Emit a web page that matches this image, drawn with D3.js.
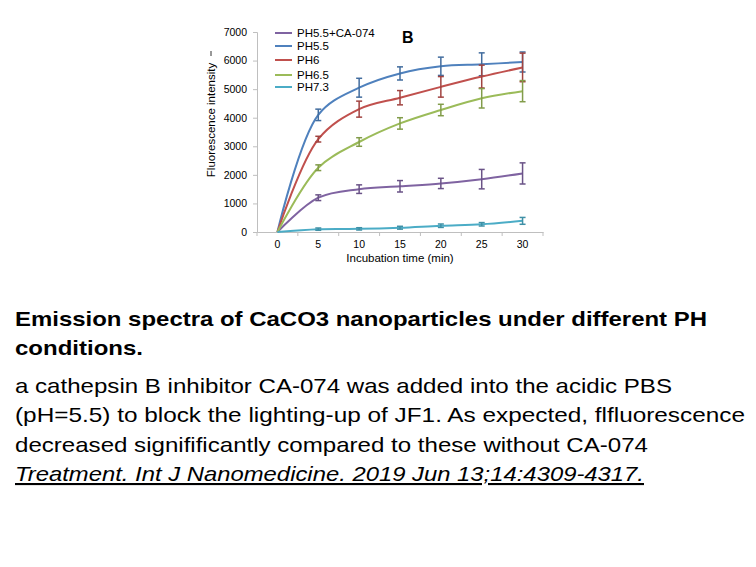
<!DOCTYPE html>
<html>
<head>
<meta charset="utf-8">
<script src="https://cdn.jsdelivr.net/npm/d3@7"></script>
<style>
  body { margin: 0; background: #fff; }
  svg { display: block; font-family: "Liberation Sans", Arial, sans-serif; }
</style>
</head>
<body>
<svg id="chart" width="756" height="567"></svg>
<script>
// data
const times = [0, 5, 10, 15, 20, 25, 30];
const yTicks = [0, 1000, 2000, 3000, 4000, 5000, 6000, 7000];
const seriesNames = ["PH5.5+CA-074", "PH5.5", "PH6", "PH6.5", "PH7.3"];
const seriesColors = ["#7f63a1", "#4f81bd", "#c0504d", "#9bbb59", "#4bacc6"];

const caMean = [0, 1200, 1500, 1600, 1700, 1850, 2050];
const caErr = [0, 100, 150, 200, 180, 340, 370];
const ph55Mean = [0, 4100, 5050, 5550, 5800, 5870, 5950];
const ph55Err = [0, 200, 330, 230, 320, 400, 350];
const ph6Mean = [0, 3250, 4300, 4700, 5080, 5440, 5760];
const ph6Err = [0, 100, 280, 250, 360, 400, 500];
const ph65Mean = [0, 2250, 3150, 3800, 4270, 4680, 4930];
const ph65Err = [0, 100, 150, 200, 200, 340, 370];
const ph73Mean = [0, 100, 110, 150, 220, 270, 390];
const ph73Err = [0, 40, 40, 50, 60, 60, 120];

const means = [caMean, ph55Mean, ph6Mean, ph65Mean, ph73Mean];
const errs = [caErr, ph55Err, ph6Err, ph65Err, ph73Err];

const svg = d3.select("#chart");

// plot area
const plotLeft = 257, plotRight = 543, plotTop = 32, plotBottom = 232;

const x = d3.scaleBand().domain(times).range([plotLeft, plotRight]);
const y = d3.scaleLinear().domain([0, 7000]).range([plotBottom, plotTop]);
const cx = (t) => x(t) + x.bandwidth() / 2;

const axisColor = "#bfbfbf";

// y axis
const yAxis = svg.append("g")
  .attr("transform", `translate(${plotLeft},0)`)
  .call(d3.axisLeft(y).tickValues(yTicks).tickFormat(d3.format("d")).tickSize(4).tickPadding(6));
yAxis.select(".domain").attr("stroke", axisColor);
yAxis.selectAll(".tick line").attr("stroke", axisColor);
yAxis.selectAll("text").attr("font-size", 10.5).attr("fill", "#000");

// x axis, ticks between categories like Excel
const xAxis = svg.append("g")
  .attr("transform", `translate(0,${plotBottom})`)
  .call(d3.axisBottom(x).tickSize(0).tickPadding(9));
xAxis.select(".domain").attr("stroke", axisColor);
xAxis.selectAll("text").attr("font-size", 10.5).attr("fill", "#000");
xAxis.selectAll(".sep")
  .data(d3.range(times.length + 1))
  .join("line")
  .attr("class", "sep")
  .attr("x1", (i) => plotLeft + i * x.step())
  .attr("x2", (i) => plotLeft + i * x.step())
  .attr("y1", 0)
  .attr("y2", 4)
  .attr("stroke", axisColor);

// axis titles
svg.append("text")
  .attr("transform", `translate(215,120) rotate(-90)`)
  .attr("text-anchor", "middle")
  .attr("font-size", 11.5)
  .text("Fluorescence intensity");
svg.append("line")
  .attr("x1", 211).attr("x2", 211)
  .attr("y1", 51).attr("y2", 56)
  .attr("stroke", "#333");

svg.append("text")
  .attr("x", 400)
  .attr("y", 262)
  .attr("text-anchor", "middle")
  .attr("font-size", 11.5)
  .text("Incubation time (min)");

svg.append("text")
  .attr("x", 402)
  .attr("y", 43)
  .attr("font-size", 16)
  .attr("font-weight", "bold")
  .text("B");

// series
const line = d3.line()
  .x((d, i) => cx(times[i]))
  .y((d) => y(d))
  .curve(d3.curveCatmullRom.alpha(0.5));

seriesNames.forEach((name, k) => {
  const g = svg.append("g");
  g.append("path")
    .datum(means[k])
    .attr("fill", "none")
    .attr("stroke", seriesColors[k])
    .attr("stroke-width", 2)
    .attr("d", line);

  const bars = means[k].map((m, i) => ({ t: times[i], m, e: errs[k][i] })).filter((d) => d.e > 0);
  const errColor = d3.color(seriesColors[k]).darker(0.5);
  g.selectAll("line.err")
    .data(bars)
    .join("line")
    .attr("class", "err")
    .attr("x1", (d) => cx(d.t)).attr("x2", (d) => cx(d.t))
    .attr("y1", (d) => y(d.m - d.e)).attr("y2", (d) => y(d.m + d.e))
    .attr("stroke", errColor)
    .attr("stroke-width", 1.5);
  [-1, 1].forEach((s) => {
    g.selectAll("line.cap" + (s > 0 ? "t" : "b"))
      .data(bars)
      .join("line")
      .attr("class", "cap" + (s > 0 ? "t" : "b"))
      .attr("x1", (d) => cx(d.t) - 3).attr("x2", (d) => cx(d.t) + 3)
      .attr("y1", (d) => y(d.m + s * d.e)).attr("y2", (d) => y(d.m + s * d.e))
      .attr("stroke", errColor)
      .attr("stroke-width", 1.5);
  });
});

// legend
const legendY = [33, 46, 60, 75, 87];
const legend = svg.append("g");
seriesNames.forEach((name, k) => {
  legend.append("line")
    .attr("x1", 275).attr("x2", 292)
    .attr("y1", legendY[k]).attr("y2", legendY[k])
    .attr("stroke", seriesColors[k])
    .attr("stroke-width", 2);
  legend.append("text")
    .attr("x", 297)
    .attr("y", legendY[k] + 4)
    .attr("font-size", 11.5)
    .text(name);
});

// caption below the chart: [text, baseline, right edge, style]
const captionLines = [
  ["Emission spectra of CaCO3 nanoparticles under different PH", 326, 707, "bold"],
  ["conditions.", 355, 143, "bold"],
  ["a cathepsin B inhibitor CA-074 was added into the acidic PBS", 393, 672, "normal"],
  ["(pH=5.5) to block the lighting-up of JF1. As expected, flfluorescence", 422, 745, "normal"],
  ["decreased signifificantly compared to these without CA-074", 452, 648, "normal"],
  ["Treatment. Int J Nanomedicine. 2019 Jun 13;14:4309-4317.", 481, 644, "cite"]
];

captionLines.forEach(([t, base, end, style]) => {
  svg.append("text")
    .attr("x", 15).attr("y", base)
    .attr("font-size", 21)
    .attr("font-weight", style === "bold" ? "bold" : "normal")
    .attr("font-style", style === "cite" ? "italic" : "normal")
    .attr("text-decoration", style === "cite" ? "underline" : "none")
    .attr("textLength", end - 15)
    .attr("lengthAdjust", "spacingAndGlyphs")
    .text(t);
});
</script>
</body>
</html>
